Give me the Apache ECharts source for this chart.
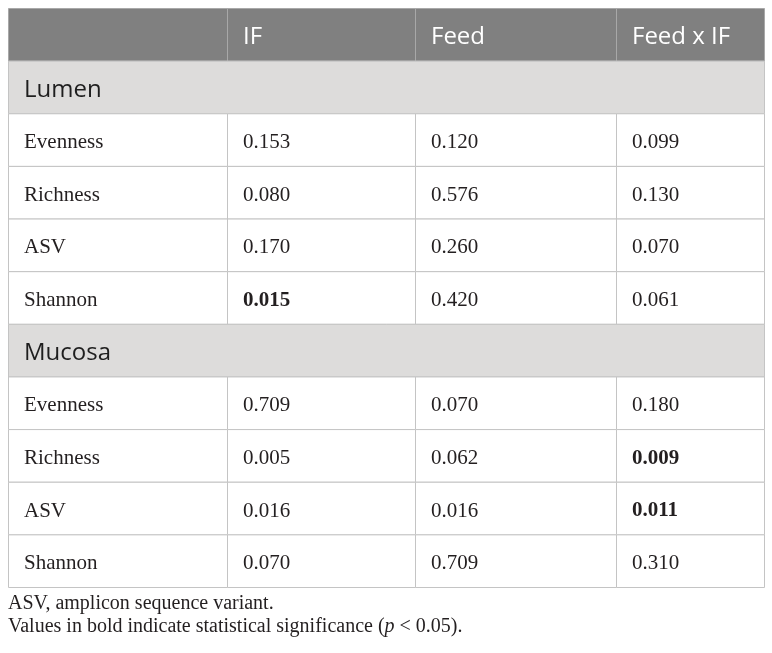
<!DOCTYPE html>
<html>
	<head>
		<meta charset="utf-8" />
		<title>IF x Feed</title>
		<script src="https://cdn.jsdelivr.net/npm/echarts@6/dist/echarts.min.js"></script>
		<style>
			html, body { margin: 0; padding: 0; background: #fff; }
			#main { width: 772px; height: 653px; }
		</style>
	</head>
	<body>
		<div id="main"></div>
	<script>
	// table data
	var columns = ['IF', 'Feed', 'Feed x IF'];
	var groups = ['Lumen', 'Mucosa'];
	var metrics = ['Evenness', 'Richness', 'ASV', 'Shannon'];

	var lumenIF = ['0.153', '0.080', '0.170', '0.015'];
	var lumenFeed = ['0.120', '0.576', '0.260', '0.420'];
	var lumenFeedIF = ['0.099', '0.130', '0.070', '0.061'];

	var mucosaIF = ['0.709', '0.005', '0.016', '0.070'];
	var mucosaFeed = ['0.070', '0.062', '0.016', '0.709'];
	var mucosaFeedIF = ['0.180', '0.009', '0.011', '0.310'];

	// cells shown in bold: [group, metric, column]
	var significant = [
		['Lumen', 'Shannon', 'IF'],
		['Mucosa', 'Richness', 'Feed x IF'],
		['Mucosa', 'ASV', 'Feed x IF']
	];

	var footnotes = [
		'ASV, amplicon sequence variant.',
		'Values in bold indicate statistical significance ({i|p} < 0.05).'
	];

	// layout: column edges in px along the table width
	var colEdges = [0, 219, 407, 608, 756];
	var serif = '"Liberation Serif", "DejaVu Serif", serif';
	var sans = '"Open Sans", "Noto Sans", sans-serif';

	var groupValues = {
		'Lumen': [lumenIF, lumenFeed, lumenFeedIF],
		'Mucosa': [mucosaIF, mucosaFeed, mucosaFeedIF]
	};

	function isBold(g, m, c) {
		for (var i = 0; i < significant.length; i++) {
			var s = significant[i];
			if (s[0] === g && s[1] === m && s[2] === c) return true;
		}
		return false;
	}

	// build rows: header, then per group a section row and metric rows
	var rowKeys = ['header'];
	var cells = [];
	for (var c = 0; c < columns.length; c++) {
		cells.push([c + 1, 0, columns[c], 'header']);
	}
	cells.push([0, 0, '', 'header']);
	groups.forEach(function (g) {
		var r = rowKeys.length;
		rowKeys.push(g);
		cells.push([-1, r, g, 'section']);
		metrics.forEach(function (m, mi) {
			var rr = rowKeys.length;
			rowKeys.push(g + ' ' + m);
			cells.push([0, rr, m, 'label']);
			for (var c = 0; c < columns.length; c++) {
				cells.push([c + 1, rr, groupValues[g][c][mi], isBold(g, m, columns[c]) ? 'bold' : 'value']);
			}
		});
	});

	function renderCell(params, api) {
		var col = api.value(0);
		var row = api.value(1);
		var kind = cells[params.dataIndex][3];
		var text = cells[params.dataIndex][2];
		var h = api.size([0, 1])[1];
		var cy = api.coord([0, row])[1];
		var x0, x1;
		if (col < 0) {
			x0 = api.coord([colEdges[0], row])[0];
			x1 = api.coord([colEdges[colEdges.length - 1], row])[0];
		} else {
			x0 = api.coord([colEdges[col], row])[0];
			x1 = api.coord([colEdges[col + 1], row])[0];
		}
		var fill = '#fff', stroke = '#c4c4c4', font, color = '#231f20';
		if (kind === 'header') {
			fill = '#808080';
			stroke = '#a8a8a8';
			font = 'normal 24px ' + sans;
			color = '#fff';
		} else if (kind === 'section') {
			fill = '#dddcdb';
			font = 'normal 24px ' + sans;
			color = '#1e1e1e';
		} else if (kind === 'bold') {
			font = 'bold 21px ' + serif;
		} else {
			font = 'normal 21px ' + serif;
		}
		return {
			type: 'group',
			children: [{
				type: 'rect',
				shape: { x: x0 + 0.5, y: cy - h / 2 + 0.5, width: x1 - x0, height: h },
				style: { fill: fill, stroke: stroke, lineWidth: 1 }
			}, {
				type: 'text',
				z2: 10,
				style: {
					text: text,
					x: x0 + 16,
					y: cy + 3,
					font: font,
					fill: color,
					textAlign: 'left',
					textVerticalAlign: 'middle',
					align: 'left',
					verticalAlign: 'middle'
				}
			}]
		};
	}

	var chart = echarts.init(document.getElementById('main'));
	var option = {
		animation: false,
		title: {
			text: footnotes.join('\n'),
			left: 8,
			top: 592,
			padding: 0,
			textStyle: {
				fontFamily: serif,
				fontSize: 20,
				fontWeight: 'normal',
				color: '#231f20',
				lineHeight: 23,
				rich: {
					i: { fontFamily: serif, fontSize: 20, fontStyle: 'italic', color: '#231f20', lineHeight: 23 }
				}
			}
		},
		grid: { left: 8, right: 8, top: 8, bottom: 66 },
		xAxis: { type: 'value', min: 0, max: colEdges[colEdges.length - 1], show: false },
		yAxis: { type: 'category', data: rowKeys, inverse: true, show: false },
		series: [{
			type: 'custom',
			renderItem: renderCell,
			encode: { x: 0, y: 1 },
			data: cells.map(function (d) { return [d[0], d[1]]; })
		}]
	};
	chart.setOption(option);
	</script>
	</body>
</html>
